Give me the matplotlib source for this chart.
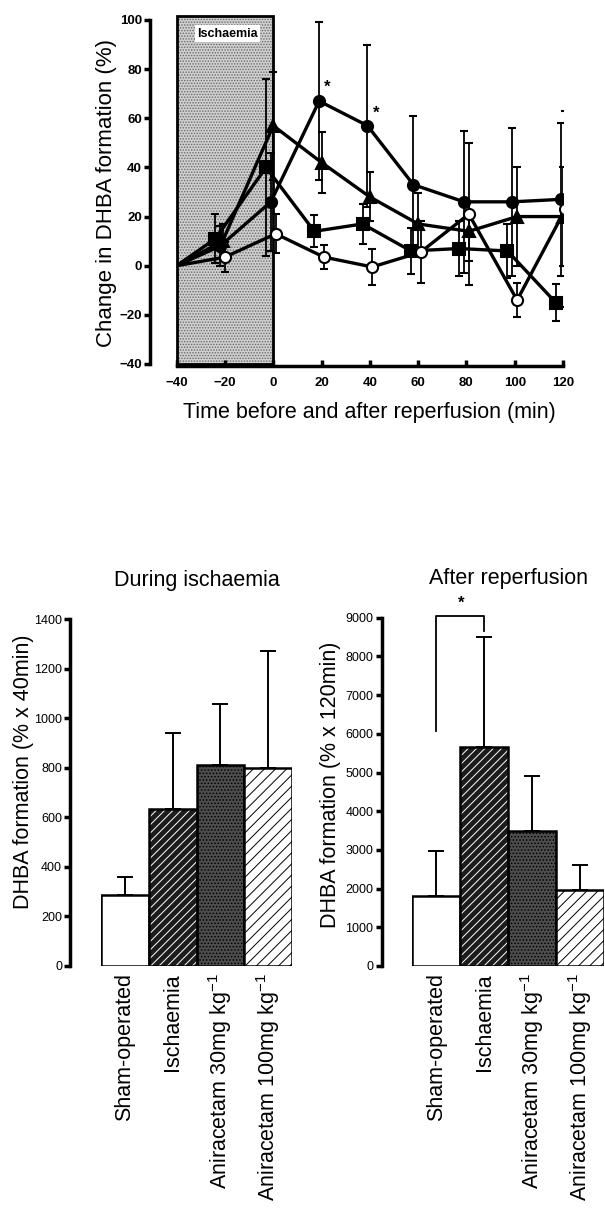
import matplotlib
matplotlib.use("Agg")
import matplotlib.pyplot as plt
from matplotlib.patches import Rectangle

plt.rcParams['font.family'] = ['Liberation Sans', 'DejaVu Sans']
plt.rcParams['mathtext.fontset'] = 'custom'
plt.rcParams['mathtext.rm'] = 'Liberation Sans'
plt.rcParams['mathtext.default'] = 'rm'
plt.rcParams['hatch.linewidth'] = 0.7

# ---- time course data ----
t_sq = [-40, -24, -3, 17, 37, 57, 77, 97, 117]
v_sq = [0, 11, 40, 14, 17, 6, 7, 6, -15]
e_sq = [0, 10, 36, 6.5, 8, 9.5, 11, 11, 7.5]

t_fc = [-40, -22, -1, 19, 39, 58, 79, 99, 119]
v_fc = [0, 8, 26, 67, 57, 33, 26, 26, 27]
e_fc = [0, 8, 20, 32, 33, 28, 29, 30, 31]

t_tr = [-40, -21, 0, 20, 40, 60, 81, 101, 120]
v_tr = [0, 10, 57, 42, 28, 17, 14, 20, 20]
e_tr = [0, 7, 22, 12.5, 10, 12.5, 12, 20, 20]

t_oc = [-40, -20, 1, 21, 41, 61, 81, 101, 121]
v_oc = [0, 3.5, 13, 3.5, -0.5, 5.5, 21, -14, 23]
e_oc = [0, 6, 8, 5, 7.5, 12.5, 29, 7, 40]

star_t = [22.5, 42.5]
star_v = [72.5, 62]

# ---- bar data ----
groups = ['Sham-operated', 'Ischaemia', 'Aniracetam 30mg kg$^{-1}$',
          'Aniracetam 100mg kg$^{-1}$']
during = [285, 635, 810, 797]
during_err = [75, 305, 248, 473]
after = [1800, 5660, 3480, 1960]
after_err = [1180, 2850, 1430, 660]

fig = plt.figure(figsize=(6.05, 12.13), dpi=100)

# ================= top: time course =================
ax = fig.add_axes([176.7 / 605, 1 - 364 / 1213, 386.3 / 605, 344 / 1213])
ax.set_xlim(-40, 120)
ax.set_ylim(-40, 100)

# shaded ischaemia period
ax.add_patch(Rectangle((-40, -40), 40, 141.5, facecolor='#cfcfcf', edgecolor='#6a6a6a',
                       hatch='......', lw=0, clip_on=False, zorder=0))
ax.add_patch(Rectangle((-40, -40), 40, 141.5, facecolor='none', edgecolor='k',
                       lw=2, clip_on=False, zorder=1))
ax.text(-19, 94.5, 'Ischaemia', ha='center', va='center', fontsize=9, fontweight='bold',
        bbox=dict(facecolor='white', edgecolor='none', pad=1.5), zorder=2)

common = dict(color='k', lw=2.4, ms=8, mew=1.5, elinewidth=1.3, capsize=3,
              capthick=1.3, errorevery=(1, 1), markevery=list(range(1, 9)))
ax.errorbar(t_fc, v_fc, yerr=e_fc, fmt='-o', mfc='k', zorder=4, **common)
ax.errorbar(t_tr, v_tr, yerr=e_tr, fmt='-^', mfc='k', zorder=4, **common)
ax.errorbar(t_sq, v_sq, yerr=e_sq, fmt='-s', mfc='k', zorder=4, **common)
ax.errorbar(t_oc, v_oc, yerr=e_oc, fmt='-o', mfc='white', zorder=5, **common)

for st, sv in zip(star_t, star_v):
    ax.text(st, sv, '*', ha='center', va='center', fontsize=12, fontweight='bold')

for s in ['top', 'right']:
    ax.spines[s].set_visible(False)
ax.spines['left'].set_position(('outward', 19))
ax.spines['bottom'].set_position(('outward', 1.5))
ax.spines['left'].set_linewidth(2.5)
ax.spines['bottom'].set_linewidth(2.5)
ax.set_xticks(range(-40, 121, 20))
ax.set_yticks(range(-40, 101, 20))
ax.tick_params(axis='y', direction='out', length=4, width=2.5, labelsize=9.5, pad=2)
ax.tick_params(axis='x', direction='in', length=4, width=2.5, labelsize=9.5, pad=8)
for lab in ax.get_xticklabels() + ax.get_yticklabels():
    lab.set_fontweight('bold')
ax.set_ylabel('Change in DHBA formation (%)', fontsize=16)
ax.yaxis.set_label_coords(-0.155, 0.4985)
ax.set_xlabel('Time before and after reperfusion (min)', fontsize=15.5, labelpad=9)


# ================= bottom bar charts =================
def bar_panel(axb, vals, errs, ymax, step, title, ylabel, lab_x, lab_y):
    x = list(range(len(vals)))
    axb.bar(x[0], vals[0], width=1, facecolor='white', edgecolor='k', lw=1.8, zorder=2)
    axb.bar(x[1], vals[1], width=1, facecolor='#1c1c1c', edgecolor='white',
            hatch='////', lw=0, zorder=2)
    axb.bar(x[1], vals[1], width=1, facecolor='none', edgecolor='k', lw=1.8, zorder=3)
    axb.bar(x[2], vals[2], width=1, facecolor='#4d4d4d', edgecolor='k',
            hatch='.....', lw=1.8, zorder=2)
    axb.bar(x[3], vals[3], width=1, facecolor='white', edgecolor='k',
            hatch='///', lw=1.8, zorder=2)
    axb.errorbar(x, vals, yerr=[[0] * len(vals), errs], fmt='none', ecolor='k',
                 elinewidth=1.4, capsize=6, capthick=1.4, zorder=1)
    axb.set_xlim(-0.5, 3.5)
    axb.set_ylim(0, ymax)
    axb.set_yticks(range(0, ymax + 1, step))
    axb.set_xticks(x)
    axb.set_xticklabels(groups, rotation=90, fontsize=15.5)
    axb.tick_params(axis='x', length=0, pad=5)
    axb.tick_params(axis='y', direction='out', length=4, width=2.5, labelsize=9, pad=2)
    for lab in axb.get_yticklabels():
        lab.set_fontweight('bold')
    for s in ['top', 'right', 'bottom']:
        axb.spines[s].set_visible(False)
    axb.spines['left'].set_position(('outward', 22))
    axb.spines['left'].set_linewidth(2.5)
    axb.set_title(title, fontsize=15.5, pad=24)
    axb.set_ylabel(ylabel, fontsize=15.5)
    axb.yaxis.set_label_coords(lab_x, lab_y)


axL = fig.add_axes([101 / 605, 1 - 966 / 1213, 191 / 605, 347 / 1213])
bar_panel(axL, during, during_err, 1400, 200, 'During ischaemia',
          'DHBA formation (% x 40min)', -0.35, 0.56)

axR = fig.add_axes([412.3 / 605, 1 - 966 / 1213, 191.7 / 605, 348.3 / 1213])
bar_panel(axR, after, after_err, 9000, 1000, 'After reperfusion',
          'DHBA formation (% x 120min)', -0.37, 0.52)

# significance bracket sham vs ischaemia
axR.plot([0, 0, 1, 1], [6080, 9050, 9050, 8660], color='k', lw=1.3, clip_on=False)
axR.text(0.52, 9370, '*', ha='center', va='center', fontsize=12, fontweight='bold')

fig.savefig('out.png', dpi=100)
